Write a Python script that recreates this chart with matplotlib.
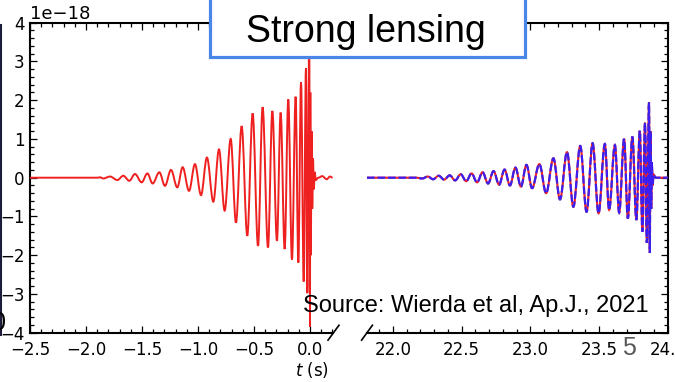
"""Strong lensing slide: GW strain, unlensed vs. lensed image (broken time axis)."""

import matplotlib
matplotlib.use("Agg")
import matplotlib.pyplot as plt
from matplotlib.patches import Rectangle, PathPatch
from matplotlib.path import Path
from matplotlib.lines import Line2D
from matplotlib.ticker import MultipleLocator

# --- data: extrema of the strain (units of 1e-18) ---
t_left = [-2.5, -1.90, -1.875, -1.845, -1.786, -1.720, -1.667, -1.613, -1.5625,
          -1.503, -1.452, -1.405, -1.345, -1.295, -1.241, -1.185, -1.137, -1.080,
          -1.027, -0.973, -0.920, -0.863, -0.8125, -0.762, -0.708, -0.661, -0.610,
          -0.560, -0.512, -0.464, -0.423, -0.375, -0.336, -0.295, -0.262, -0.226,
          -0.194, -0.161, -0.128, -0.104, -0.080, -0.056, -0.036, -0.024, -0.006,
          0.0, 0.003, 0.008, 0.014, 0.020, 0.027, 0.034, 0.042, 0.052, 0.074,
          0.110, 0.149, 0.179, 0.202]
h_left = [0, 0, 0.01, -0.02, 0.03, -0.06, 0.05, -0.08, 0.095,
          -0.12, 0.11, -0.15, 0.14, -0.21, 0.20, -0.25, 0.27, -0.34,
          0.35, -0.45, 0.52, -0.62, 0.73, -0.85, 1.0, -1.16, 1.33,
          -1.50, 1.66, -1.76, 1.82, -1.80, 1.72, -1.63, 1.68, -1.84,
          2.02, -2.11, 2.09, -2.19, 2.46, -2.68, 2.82, -2.98, 3.9,
          -3.85, 2.2, -2.0, 1.2, -0.8, 0.5, -0.3, 0.15, -0.06, 0.0,
          0.04, -0.04, 0.03, 0.0]

t_right = [21.812, 22.17, 22.214, 22.254, 22.293, 22.333, 22.373, 22.413, 22.453,
           22.493, 22.533, 22.572, 22.612, 22.652, 22.692, 22.732, 22.772, 22.812,
           22.851, 22.891, 22.931, 22.971, 23.012, 23.065, 23.114, 23.167, 23.215,
           23.266, 23.312, 23.362, 23.408, 23.452, 23.495, 23.541, 23.572, 23.614,
           23.645, 23.681, 23.708, 23.741, 23.770, 23.795, 23.814, 23.833, 23.846,
           23.862, 23.868, 23.873, 23.878, 23.883, 23.888, 23.895, 23.91, 24.0]
h_right = [0, 0, -0.02, 0.03, -0.04, 0.05, -0.05, 0.06, -0.07,
           0.09, -0.09, 0.11, -0.12, 0.14, -0.15, 0.17, -0.18, 0.21,
           -0.20, 0.26, -0.23, 0.33, -0.27, 0.35, -0.40, 0.50, -0.56,
           0.66, -0.75, 0.82, -0.88, 0.89, -0.92, 0.87, -0.83, 0.84,
           -0.90, 1.0, -1.05, 1.06, -1.09, 1.21, -1.39, 1.42, -1.68,
           1.94, -1.94, 1.2, -0.8, 0.4, -0.2, 0.08, 0.0, 0.0]

SCALE = 1e-18
RED = "#ee2020"
BLUE = "#3a1ff0"

W, H = 675, 382
fig = plt.figure(figsize=(W / 100, H / 100), dpi=100)
fig.patch.set_facecolor("white")


def px(x0, y0, x1, y1):
    """pixel box (top-left origin) -> figure fraction rect"""
    return [x0 / W, 1 - y1 / H, (x1 - x0) / W, (y1 - y0) / H]


def wave(ts, hs):
    """path through the extrema, flat tangent at each one (sine-like arcs)"""
    verts = [(ts[0], hs[0] * SCALE)]
    codes = [Path.MOVETO]
    for i in range(1, len(ts)):
        dt = ts[i] - ts[i - 1]
        verts += [(ts[i - 1] + 0.36 * dt, hs[i - 1] * SCALE),
                  (ts[i] - 0.36 * dt, hs[i] * SCALE),
                  (ts[i], hs[i] * SCALE)]
        codes += [Path.CURVE4] * 3
    return Path(verts, codes)


ax1 = fig.add_axes(px(30, 22.7, 333.5, 332.7))
ax2 = fig.add_axes(px(367, 22.7, 668, 332.7))

ax1.add_patch(PathPatch(wave(t_left, h_left), fill=False, edgecolor=RED,
                        lw=1.4, zorder=3))
ax2.add_patch(PathPatch(wave(t_right, h_right), fill=False, edgecolor=RED,
                        lw=1.5, zorder=3))
ax2.add_patch(PathPatch(wave(t_right, h_right), fill=False, edgecolor=BLUE,
                        lw=1.6, ls=(0, (3.5, 1.2)), zorder=4))

ax1.set_xlim(-2.5, 0.21)
ax2.set_xlim(21.812, 24.0)
for ax in (ax1, ax2):
    ax.set_ylim(-4 * SCALE, 4 * SCALE)
    ax.yaxis.set_major_locator(MultipleLocator(1 * SCALE))
    ax.yaxis.set_minor_locator(MultipleLocator(0.2 * SCALE))
    ax.xaxis.set_major_locator(MultipleLocator(0.5))
    ax.xaxis.set_minor_locator(MultipleLocator(0.1))
    ax.tick_params(which="both", direction="in", width=0.9, labelsize=12,
                   colors="black")
    ax.tick_params(axis="x", pad=6)
    ax.tick_params(axis="y", pad=4)
    ax.tick_params(which="major", length=5)
    ax.tick_params(which="minor", length=3)
    for s in ax.spines.values():
        s.set_linewidth(1.5)

ax1.spines["right"].set_visible(False)
ax1.tick_params(which="both", top=True, bottom=True, left=True, right=False)
ax2.spines["left"].set_visible(False)
ax2.tick_params(which="both", top=True, bottom=True, left=False, right=True,
                labelleft=False, labelright=False)
ax1.yaxis.get_offset_text().set_fontsize(13)

# break marks
for ax, xa in ((ax1, 1.0), (ax2, 0.0)):
    for ya in (0.0, 1.0):
        ax.add_line(Line2D([xa - 0.018, xa + 0.018], [ya - 0.024, ya + 0.024],
                           transform=ax.transAxes, color="black", lw=1.2,
                           clip_on=False))

fig.text(312 / W, 1 - 369.5 / H, "$t$ (s)", fontsize=12, ha="center",
         va="center")

# slide overlays
box = Rectangle((210 / W, 1 - 57 / H), 315 / W, 70 / H, transform=fig.transFigure,
                facecolor="white", edgecolor="#4a86e8", lw=2.3, zorder=10)
fig.add_artist(box)
fig.text(366 / W, 1 - 41.7 / H, "Strong lensing", fontsize=27,
         family="Liberation Sans", ha="center", va="baseline", zorder=11)
fig.text(303 / W, 1 - 312 / H, "Source: Wierda et al, Ap.J., 2021", fontsize=17,
         family="Liberation Sans", ha="left", va="baseline", zorder=11)
fig.text(622 / W, 1 - 355 / H, "5", fontsize=18, color="#595959",
         family="Liberation Sans", ha="left", va="baseline", zorder=11)
fig.text(6 / W, 1 - 330 / H, "0", fontsize=18, family="Liberation Sans",
         ha="right", va="baseline", zorder=11)
fig.add_artist(Line2D([1 / W, 1 / W], [1 - 335 / H, 1 - 25 / H],
                      transform=fig.transFigure, color="#1c1c3a", lw=1.5,
                      zorder=11))

fig.savefig("out.png", dpi=100)
